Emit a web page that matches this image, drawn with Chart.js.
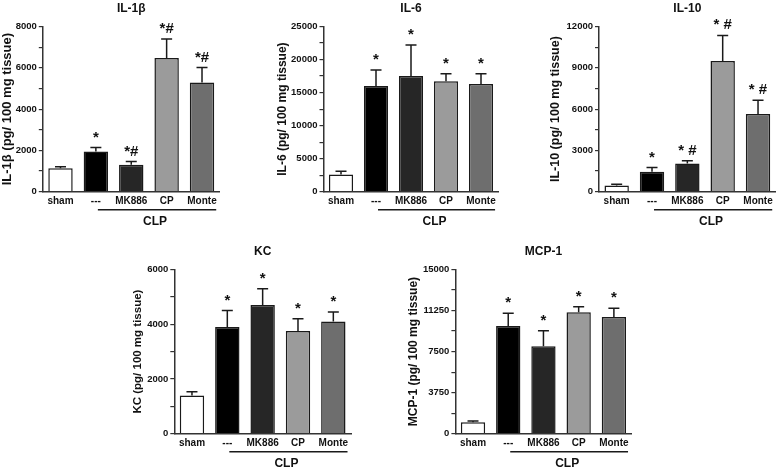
<!doctype html>
<html>
<head>
<meta charset="utf-8">
<script src="https://cdn.jsdelivr.net/npm/chart.js"></script>
<style>
    body { margin: 0px; background: #fff; }
    #fig { position: relative; width: 778px; height: 468px; overflow: hidden; }
    #fig canvas { position: absolute; }
</style>
</head>
<body>
<div id="fig">
    <canvas id="il1b" width="224" height="234" style="left:0px; top:0px;"></canvas>
    <canvas id="il6" width="228" height="234" style="left:275px; top:0px;"></canvas>
    <canvas id="il10" width="230" height="234" style="left:548px; top:0px;"></canvas>
    <canvas id="kc" width="225" height="225" style="left:131px; top:243px;"></canvas>
    <canvas id="mcp1" width="230" height="225" style="left:406px; top:243px;"></canvas>
</div>

<script>
// groups on the x axis (the last four are CLP)
const groups = ['sham', '---', 'MK886', 'CP', 'Monte'];

const il1bMean  = [1140, 1950, 1300, 6470, 5290];
const il1bSem   = [70, 190, 160, 930, 720];
const il1bMarks = ['', '*', '*#', '*#', '*#'];
const il1bTicks = [0, 2000, 4000, 6000, 8000];

const il6Mean  = [2620, 16000, 17500, 16700, 16300];
const il6Sem   = [480, 2400, 4700, 1150, 1550];
const il6Marks = ['', '*', '*', '*', '*'];
const il6Ticks = [0, 5000, 10000, 15000, 20000, 25000];

const il10Mean  = [450, 1450, 2050, 9500, 5650];
const il10Sem   = [100, 300, 200, 1850, 1000];
const il10Marks = ['', '*', '* #', '* #', '* #'];
const il10Ticks = [0, 3000, 6000, 9000, 12000];

const kcMean  = [1400, 3900, 4700, 3750, 4100];
const kcSem   = [130, 600, 600, 450, 350];
const kcMarks = ['', '*', '*', '*', '*'];
const kcTicks = [0, 2000, 4000, 6000];

const mcp1Mean  = [1050, 9850, 8000, 11100, 10650];
const mcp1Sem   = [120, 1150, 1400, 500, 800];
const mcp1Marks = ['', '*', '*', '*', '*'];
const mcp1Ticks = [0, 3750, 7500, 11250, 15000];

const fontFamily = '"Liberation Sans", Arial, sans-serif';
const ink = '#111';
const barFill = ['#ffffff', '#000000', '#262626', '#9b9b9b', '#6e6e6e'];

Chart.defaults.font.family = fontFamily;
Chart.defaults.color = ink;

// error bars (up only), significance marks and the CLP bracket
const errorBars = {
    id: 'errorBars',
    afterDatasetsDraw(chart) {
        const ctx = chart.ctx;
        const ds = chart.data.datasets[0];
        const bars = chart.getDatasetMeta(0).data;
        const y = chart.scales.y;
        ctx.save();
        ctx.strokeStyle = '#1a1a1a';
        ctx.fillStyle = ink;
        ctx.lineWidth = 1.5;
        ctx.textAlign = 'center';
        ctx.textBaseline = 'alphabetic';
        ctx.font = 'bold 15px ' + fontFamily;
        bars.forEach((bar, i) => {
            const top = y.getPixelForValue(ds.data[i] + ds.sem[i]);
            ctx.beginPath();
            ctx.moveTo(bar.x, bar.y);
            ctx.lineTo(bar.x, top);
            ctx.moveTo(bar.x - 5.5, top);
            ctx.lineTo(bar.x + 5.5, top);
            ctx.stroke();
            if (ds.marks[i]) {
                ctx.fillText(ds.marks[i], bar.x, top - 6);
            }
        });

        const last = bars[bars.length - 1];
        const x1 = bars[1].x + 2;
        const x2 = last.x + last.width / 2 + 2;
        const yb = chart.chartArea.bottom + 18;
        ctx.beginPath();
        ctx.moveTo(x1, yb);
        ctx.lineTo(x2, yb);
        ctx.stroke();
        ctx.font = 'bold 12px ' + fontFamily;
        ctx.textBaseline = 'middle';
        ctx.fillText('CLP', (x1 + x2) / 2 - 2, yb + 12);
        ctx.restore();
    }
};

function panel(id, p) {
    const major = p.ticks[1] - p.ticks[0];
    return new Chart(document.getElementById(id), {
        type: 'bar',
        data: {
            labels: groups,
            datasets: [{
                data: p.mean,
                sem: p.sem,
                marks: p.marks,
                backgroundColor: barFill,
                borderColor: '#1a1a1a',
                borderWidth: 1.5,
                barPercentage: 0.69,
                categoryPercentage: 1
            }]
        },
        options: {
            responsive: false,
            animation: false,
            layout: { padding: { left: 0, right: p.padRight, top: 0, bottom: 0 } },
            plugins: {
                legend: { display: false },
                tooltip: { enabled: false },
                title: {
                    display: true,
                    text: p.title,
                    fullSize: false,
                    color: ink,
                    font: { size: 12, weight: 'bold' },
                    padding: { top: 1, bottom: 11.1 }
                }
            },
            scales: {
                x: {
                    grid: { display: false, drawTicks: false },
                    border: { display: true, color: '#333', width: 1.5 },
                    ticks: { color: ink, font: { size: 10, weight: 'bold' }, padding: 4, maxRotation: 0, autoSkip: false },
                    afterFit: s => { s.height = p.xHeight; }
                },
                y: {
                    min: 0,
                    max: p.ticks[p.ticks.length - 1],
                    border: { display: true, color: '#333', width: 1.5 },
                    grid: { drawOnChartArea: false, drawTicks: true, tickLength: 4, color: '#333', lineWidth: 1.2 },
                    ticks: {
                        stepSize: major / 2,
                        padding: 2,
                        color: ink,
                        font: { size: 9.5, weight: 'bold' },
                        callback: v => p.ticks.includes(v) ? String(v) : ''
                    },
                    title: {
                        display: true,
                        text: p.yTitle,
                        color: ink,
                        font: { size: p.yFont, weight: 'bold' },
                        padding: 0
                    },
                    afterFit: s => { s.width = p.yWidth; }
                }
            }
        },
        plugins: [errorBars]
    });
}

panel('il1b', { title: 'IL-1β', yTitle: 'IL-1β (pg/ 100 mg tissue)', mean: il1bMean, sem: il1bSem, marks: il1bMarks, ticks: il1bTicks,
    yFont: 13, yWidth: 42.8, padRight: 4.3, xHeight: 42.3 });
panel('il6', { title: 'IL-6', yTitle: 'IL-6 (pg/ 100 mg tissue)', mean: il6Mean, sem: il6Sem, marks: il6Marks, ticks: il6Ticks,
    yFont: 12, yWidth: 48.5, padRight: 4.5, xHeight: 42.3 });
panel('il10', { title: 'IL-10', yTitle: 'IL-10 (pg/ 100 mg tissue)', mean: il10Mean, sem: il10Sem, marks: il10Marks, ticks: il10Ticks,
    yFont: 12.5, yWidth: 51, padRight: 2.3, xHeight: 42.3 });
panel('kc', { title: 'KC', yTitle: 'KC (pg/ 100 mg tissue)', mean: kcMean, sem: kcSem, marks: kcMarks, ticks: kcTicks,
    yFont: 11.5, yWidth: 43.3, padRight: 5, xHeight: 34.3 });
panel('mcp1', { title: 'MCP-1', yTitle: 'MCP-1 (pg/ 100 mg tissue)', mean: mcp1Mean, sem: mcp1Sem, marks: mcp1Marks, ticks: mcp1Ticks,
    yFont: 12, yWidth: 49.4, padRight: 4.5, xHeight: 34.3 });
</script>
</body>
</html>
